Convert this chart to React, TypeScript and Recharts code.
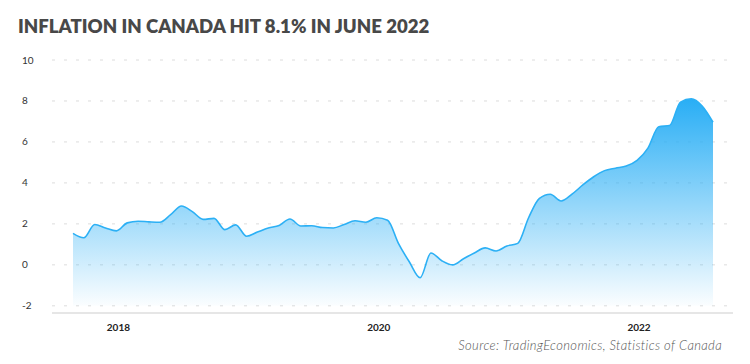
import { AreaChart, Area, XAxis, YAxis, CartesianGrid } from "recharts";

const months = [
  "2017-09", "2017-10", "2017-11", "2017-12",
  "2018-01", "2018-02", "2018-03", "2018-04", "2018-05", "2018-06",
  "2018-07", "2018-08", "2018-09", "2018-10", "2018-11", "2018-12",
  "2019-01", "2019-02", "2019-03", "2019-04", "2019-05", "2019-06",
  "2019-07", "2019-08", "2019-09", "2019-10", "2019-11", "2019-12",
  "2020-01", "2020-02", "2020-03", "2020-04", "2020-05", "2020-06",
  "2020-07", "2020-08", "2020-09", "2020-10", "2020-11", "2020-12",
  "2021-01", "2021-02", "2021-03", "2021-04", "2021-05", "2021-06",
  "2021-07", "2021-08", "2021-09", "2021-10", "2021-11", "2021-12",
  "2022-01", "2022-02", "2022-03", "2022-04", "2022-05", "2022-06",
  "2022-07", "2022-08",
];

const inflation = [
  1.54, 1.32, 1.97, 1.8,
  1.66, 2.05, 2.13, 2.1, 2.08, 2.45,
  2.87, 2.6, 2.22, 2.27, 1.72, 1.95,
  1.4, 1.6, 1.8, 1.92, 2.24, 1.9,
  1.91, 1.82, 1.8, 1.97, 2.15, 2.08,
  2.3, 2.18, 1.05, 0.15, -0.63, 0.58,
  0.2, 0.0, 0.3, 0.58, 0.83, 0.68,
  0.92, 1.05, 2.3, 3.25, 3.45, 3.12,
  3.45, 3.9, 4.3, 4.6, 4.72, 4.82,
  5.1, 5.7, 6.74, 6.8, 7.94, 8.1,
  7.75, 6.96,
];

const yTicks = [-2, 0, 2, 4, 6, 8, 10];
const xTicks = ["2018-01", "2020-01", "2022-01"];

const data = months.map((m, i) => ({ month: m, value: inflation[i] }));

const YTick = ({ y, payload }: any) => (
  <text x={22} y={y} dy={3.5} textAnchor="start" fontSize={10} fill="#333" fontFamily="Lato, sans-serif">
    {payload.value}
  </text>
);

const XTick = ({ x, payload }: any) => (
  <text x={x + 2} y={331} textAnchor="middle" fontSize={10} fontWeight={700} fill="#222" fontFamily="Lato, sans-serif">
    {String(payload.value).slice(0, 4)}
  </text>
);

export default function App() {
  return (
    <div style={{ position: "absolute", top: 0, left: 0, width: 750, height: 364, background: "#fff", overflow: "hidden" }}>
      <div
        style={{
          position: "absolute",
          left: 18,
          top: 14,
          fontFamily: "Lato, sans-serif",
          fontWeight: 800,
          fontSize: 18.6,
          color: "#484848",
          whiteSpace: "nowrap",
          lineHeight: "24px",
        }}
      >
        INFLATION IN CANADA HIT 8.1% IN JUNE 2022
      </div>
      <AreaChart width={750} height={364} data={data} margin={{ top: 60, right: 17, bottom: 21, left: 0 }}>
        <defs>
          <linearGradient id="fillGrad" x1="0" y1="0" x2="0" y2="1">
            <stop offset="0%" stopColor="#29aef5" stopOpacity={1} />
            <stop offset="100%" stopColor="#29aef5" stopOpacity={0.02} />
          </linearGradient>
        </defs>
        <CartesianGrid vertical={false} stroke="#dcdcdc" strokeDasharray="3 9" />
        <XAxis
          dataKey="month"
          ticks={xTicks}
          interval={0}
          tick={<XTick />}
          tickLine={false}
          axisLine={{ stroke: "#e6e6e6", strokeWidth: 2 }}
          padding={{ left: 21, right: 20 }}
          height={30}
        />
        <YAxis
          domain={[-2.35, 10]}
          ticks={yTicks}
          width={52}
          tick={<YTick />}
          tickLine={false}
          axisLine={false}
          allowDataOverflow
        />
        <Area
          type="monotone"
          dataKey="value"
          stroke="#2cb0f5"
          strokeWidth={1.6}
          fill="url(#fillGrad)"
          fillOpacity={1}
          baseValue={-2}
          isAnimationActive={false}
          dot={false}
          activeDot={false}
        />
      </AreaChart>
      <div
        style={{
          position: "absolute",
          right: 28,
          top: 337,
          fontFamily: "Lato, sans-serif",
          fontStyle: "italic",
          fontWeight: 300,
          fontSize: 13,
          letterSpacing: 0.35,
          color: "#555",
          whiteSpace: "nowrap",
          lineHeight: "16px",
        }}
      >
        Source: TradingEconomics, Statistics of Canada
      </div>
    </div>
  );
}
